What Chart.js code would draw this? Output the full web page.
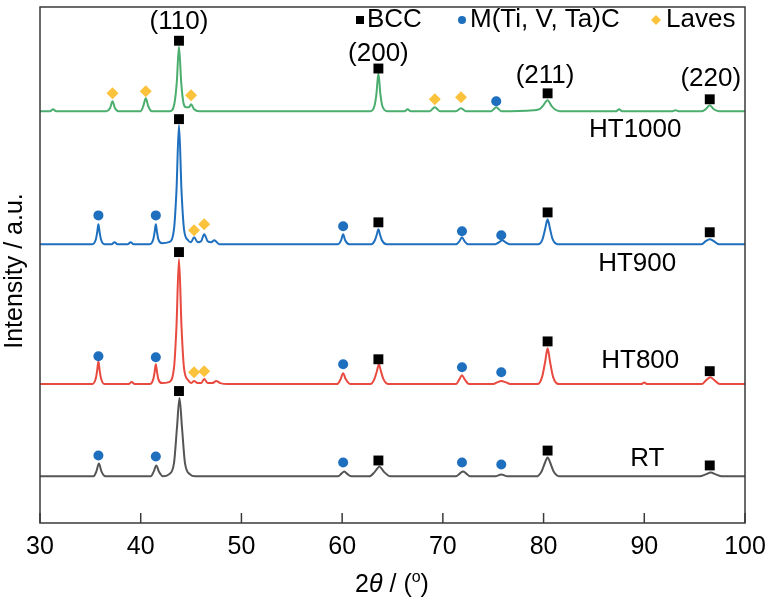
<!DOCTYPE html>
<html>
<head>
<meta charset="utf-8">
<script src="https://cdn.jsdelivr.net/npm/chart.js@4.4.1/dist/chart.umd.min.js"></script>
<style>
  body { margin: 0; background: #fff; }
  #wrap { width: 768px; height: 600px; }
</style>
</head>
<body>
<div id="wrap"><canvas id="xrd" width="768" height="600"></canvas></div>
<script>
// 2theta (deg), intensity (a.u., stacked offsets already included)
const ht1000 = [
  [30, 415], [31.0, 415], [31.3, 417], [31.6, 415],
  [36.6, 415], [36.95, 418], [37.2, 425], [37.45, 418], [37.8, 415],
  [40.0, 415], [40.25, 420], [40.5, 428], [40.75, 420], [41.1, 415],
  [42.9, 415], [43.35, 423], [43.58, 444], [43.8, 480], [44.02, 444], [44.25, 423], [44.5, 419], [44.8, 419], [45.0, 422], [45.3, 417], [45.8, 415],
  [62.8, 415], [63.2, 420], [63.4, 432], [63.6, 453], [63.8, 432], [64.0, 420], [64.5, 415],
  [66.2, 415], [66.5, 417], [66.8, 415],
  [68.7, 415], [69.2, 419], [69.7, 415],
  [71.3, 415], [71.8, 418], [72.3, 415],
  [74.8, 415], [75.3, 419], [75.8, 415],
  [79.0, 416], [79.6, 417], [79.9, 420], [80.4, 426], [80.8, 420], [81.1, 417], [81.6, 415],
  [87.2, 415], [87.5, 417], [87.8, 415],
  [92.8, 415], [93.1, 416], [93.4, 415],
  [95.7, 415], [96.1, 417], [96.5, 421], [96.9, 417], [97.4, 415],
  [100, 415]
];
const ht900 = [
  [30, 281], [35.2, 281], [35.55, 286], [35.68, 293], [35.8, 301], [35.92, 293], [36.05, 286], [36.4, 281],
  [37.1, 281], [37.4, 283], [37.7, 281],
  [38.7, 281], [39.0, 283], [39.3, 281],
  [40.9, 281], [41.25, 286], [41.38, 293], [41.5, 301], [41.62, 293], [41.75, 286], [42.1, 282],
  [42.8, 283], [43.3, 296], [43.55, 335], [43.8, 401], [44.05, 335], [44.3, 296], [44.7, 285],
  [45.0, 283], [45.3, 288], [45.65, 283], [46.0, 284], [46.3, 291], [46.65, 284],
  [47.0, 283], [47.3, 285], [47.8, 281],
  [59.6, 281], [59.9, 285], [60.1, 291], [60.3, 285], [60.7, 281],
  [62.9, 281], [63.25, 285], [63.45, 291], [63.6, 296], [63.75, 291], [63.95, 285], [64.4, 281],
  [71.3, 281], [71.65, 284], [71.9, 288], [72.15, 284], [72.5, 281],
  [75.2, 281], [75.6, 283], [75.9, 285], [76.2, 283], [76.6, 281],
  [79.5, 281], [79.9, 286], [80.15, 296], [80.4, 306], [80.65, 296], [80.9, 286], [81.4, 281],
  [95.7, 281], [96.1, 284], [96.5, 286], [96.9, 284], [97.4, 281],
  [100, 281]
];
const ht800 = [
  [30, 140], [35.2, 140], [35.55, 146], [35.68, 154], [35.8, 163], [35.92, 154], [36.05, 146], [36.4, 140],
  [38.8, 140], [39.1, 142], [39.4, 140],
  [40.9, 140], [41.25, 145], [41.38, 152], [41.5, 160], [41.62, 152], [41.75, 145], [42.1, 141],
  [42.8, 142], [43.3, 156], [43.55, 198], [43.8, 266], [44.05, 198], [44.3, 156], [44.7, 144],
  [45.0, 141], [45.3, 143], [45.65, 141], [46.0, 141], [46.3, 145], [46.65, 141],
  [47.1, 141], [47.5, 143], [47.9, 141], [48.6, 140],
  [59.5, 140], [59.85, 145], [60.1, 151], [60.35, 145], [60.8, 140],
  [62.8, 140], [63.2, 145], [63.45, 153], [63.65, 160], [63.85, 153], [64.1, 145], [64.6, 140],
  [71.3, 140], [71.65, 145], [71.9, 149], [72.15, 145], [72.6, 140],
  [75.0, 140], [75.45, 142], [75.8, 143], [76.2, 142], [76.7, 140],
  [79.4, 140], [79.85, 147], [80.15, 162], [80.4, 176], [80.65, 162], [80.95, 147], [81.5, 140],
  [89.7, 140], [90.0, 141.5], [90.3, 140],
  [95.7, 140], [96.15, 144], [96.55, 147], [96.95, 144], [97.5, 140],
  [100, 140]
];
const rt = [
  [30, 47], [35.3, 47], [35.6, 52], [35.85, 60], [36.1, 52], [36.5, 47],
  [41.0, 47], [41.3, 52], [41.55, 58], [41.8, 52], [42.2, 47],
  [42.8, 49], [43.3, 60], [43.6, 96], [43.85, 126], [44.1, 96], [44.4, 60], [44.9, 49], [45.4, 47],
  [59.6, 47], [59.95, 50], [60.2, 52], [60.45, 50], [60.9, 47],
  [62.7, 47], [63.2, 51], [63.5, 55], [63.7, 57], [63.9, 55], [64.2, 51], [64.8, 47],
  [71.3, 47], [71.7, 50], [72.0, 52], [72.3, 50], [72.7, 47],
  [75.2, 47], [75.8, 49], [76.4, 47],
  [79.3, 47], [79.8, 52], [80.15, 61], [80.4, 66], [80.65, 61], [81.0, 52], [81.6, 47],
  [95.5, 47], [96.1, 49], [96.6, 51], [97.1, 49], [97.7, 47],
  [100, 47]
];

// phase markers [2theta, height]
const bccMarks = [
  [43.8, 486], [63.6, 458], [80.4, 433], [96.5, 427],
  [43.8, 407], [63.6, 303], [80.4, 313], [96.5, 293],
  [43.8, 273], [63.6, 165], [80.4, 183], [96.5, 153],
  [43.8, 133], [63.6, 63], [80.4, 73], [96.5, 58]
];
const carbideMarks = [
  [75.3, 425],
  [35.8, 310], [41.5, 310], [60.1, 299], [71.9, 294], [75.8, 290],
  [35.8, 168], [41.5, 167], [60.1, 160], [71.9, 157], [75.8, 152],
  [35.8, 68], [41.5, 67], [60.1, 61], [71.9, 61], [75.8, 59]
];
const lavesMarks = [
  [37.2, 433], [40.5, 435], [45.0, 431], [69.2, 427], [71.8, 429],
  [45.3, 295], [46.3, 301],
  [45.3, 152], [46.3, 153]
];

const xTicks = [30, 40, 50, 60, 70, 80, 90, 100];
const peakLabels = [['(110)', 43.8, 505], ['(200)', 63.6, 473], ['(211)', 80.15, 451], ['(220)', 96.6, 448]];
const sampleLabels = [['HT1000', 89.1, 396], ['HT900', 89.3, 261], ['HT800', 89.6, 163], ['RT', 90.3, 65]];

const FONT = '"Liberation Sans", Arial, sans-serif';
const GREEN = '#4bae6f', BLUE = '#1f6fbf', RED = '#e84a3f', GRAY = '#555555';
const MBLUE = '#1f6fbf', GOLD = '#fbc23c';

const toXY = arr => arr.map(p => ({x: p[0], y: p[1]}));

function lineSet(data, color) {
  return {
    type: 'line', data: toXY(data), borderColor: color, borderWidth: 2,
    pointRadius: 0, fill: false, cubicInterpolationMode: 'monotone', order: 2
  };
}
function markSet(data, style, color, r) {
  return {
    type: 'scatter', data: toXY(data), pointStyle: style, pointRadius: r,
    backgroundColor: color, borderColor: color, borderWidth: 0, order: 1
  };
}

const decor = {
  id: 'decor',
  afterDraw(chart) {
    const ctx = chart.ctx, a = chart.chartArea;
    const xs = chart.scales.x, ys = chart.scales.y;
    ctx.save();
    // frame + inner ticks
    ctx.strokeStyle = '#3a3a3a';
    ctx.lineWidth = 1.5;
    ctx.strokeRect(a.left, a.top, a.right - a.left, a.bottom - a.top);
    xTicks.forEach(t => {
      const px = xs.getPixelForValue(t);
      ctx.beginPath();
      ctx.moveTo(px, a.bottom);
      ctx.lineTo(px, a.bottom - 10);
      ctx.stroke();
    });

    ctx.fillStyle = '#000';
    ctx.textAlign = 'center';
    ctx.textBaseline = 'middle';
    ctx.font = '26px ' + FONT;
    peakLabels.concat(sampleLabels).forEach(l => {
      ctx.fillText(l[0], xs.getPixelForValue(l[1]), ys.getPixelForValue(l[2]));
    });

    // legend
    ctx.textAlign = 'left';
    const ly = 20;
    ctx.fillStyle = '#000';
    ctx.fillRect(356, ly - 4, 8, 8);
    ctx.fillText('BCC', 367, ly);
    ctx.fillStyle = MBLUE;
    ctx.beginPath(); ctx.arc(462, ly, 4, 0, Math.PI * 2); ctx.fill();
    ctx.fillStyle = '#000';
    ctx.fillText('M(Ti, V, Ta)C', 470, ly);
    ctx.fillStyle = GOLD;
    ctx.beginPath();
    ctx.moveTo(656, ly - 5); ctx.lineTo(661, ly); ctx.lineTo(656, ly + 5); ctx.lineTo(651, ly);
    ctx.closePath(); ctx.fill();
    ctx.fillStyle = '#000';
    ctx.fillText('Laves', 666, ly);

    // y title
    ctx.save();
    ctx.translate(15, (a.top + a.bottom) / 2 + 6);
    ctx.rotate(-Math.PI / 2);
    ctx.textAlign = 'center';
    ctx.font = '25px ' + FONT;
    ctx.fillText('Intensity / a.u.', 0, 0);
    ctx.restore();

    // x title: 2θ / (o)
    ctx.textAlign = 'left';
    ctx.textBaseline = 'alphabetic';
    const parts = [['2', '25px ' + FONT, 0], ['θ', 'italic 25px ' + FONT, 0], [' / (', '25px ' + FONT, 0],
                   ['o', '16px ' + FONT, -10], [')', '25px ' + FONT, 0]];
    let w = 0;
    parts.forEach(p => { ctx.font = p[1]; w += ctx.measureText(p[0]).width; });
    let x = 392 - w / 2;
    const base = 592;
    parts.forEach(p => {
      ctx.font = p[1];
      ctx.fillText(p[0], x, base + p[2]);
      x += ctx.measureText(p[0]).width;
    });
    ctx.restore();
  }
};

new Chart(document.getElementById('xrd'), {
  data: {
    datasets: [
      lineSet(ht1000, GREEN), lineSet(ht900, BLUE), lineSet(ht800, RED), lineSet(rt, GRAY),
      markSet(bccMarks, 'rect', '#000', 7),
      markSet(carbideMarks, 'circle', MBLUE, 5),
      markSet(lavesMarks, 'rectRot', GOLD, 6)
    ]
  },
  options: {
    responsive: false,
    animation: false,
    layout: { padding: { top: 3, right: 23, left: 0, bottom: 0 } },
    plugins: { legend: { display: false }, tooltip: { enabled: false } },
    scales: {
      x: {
        type: 'linear', min: 30, max: 100,
        afterBuildTicks: s => { s.ticks = xTicks.map(v => ({value: v})); },
        afterFit: s => { s.height = 77; s.paddingLeft = 0; s.paddingRight = 0; },
        grid: { display: false, drawTicks: false },
        border: { display: false },
        ticks: { font: { size: 25, family: FONT }, color: '#000', padding: 9, maxRotation: 0 }
      },
      y: {
        min: 0, max: 520,
        afterFit: s => { s.width = 40; },
        grid: { display: false, drawTicks: false },
        border: { display: false },
        ticks: { display: false }
      }
    }
  },
  plugins: [decor]
});
</script>
</body>
</html>
